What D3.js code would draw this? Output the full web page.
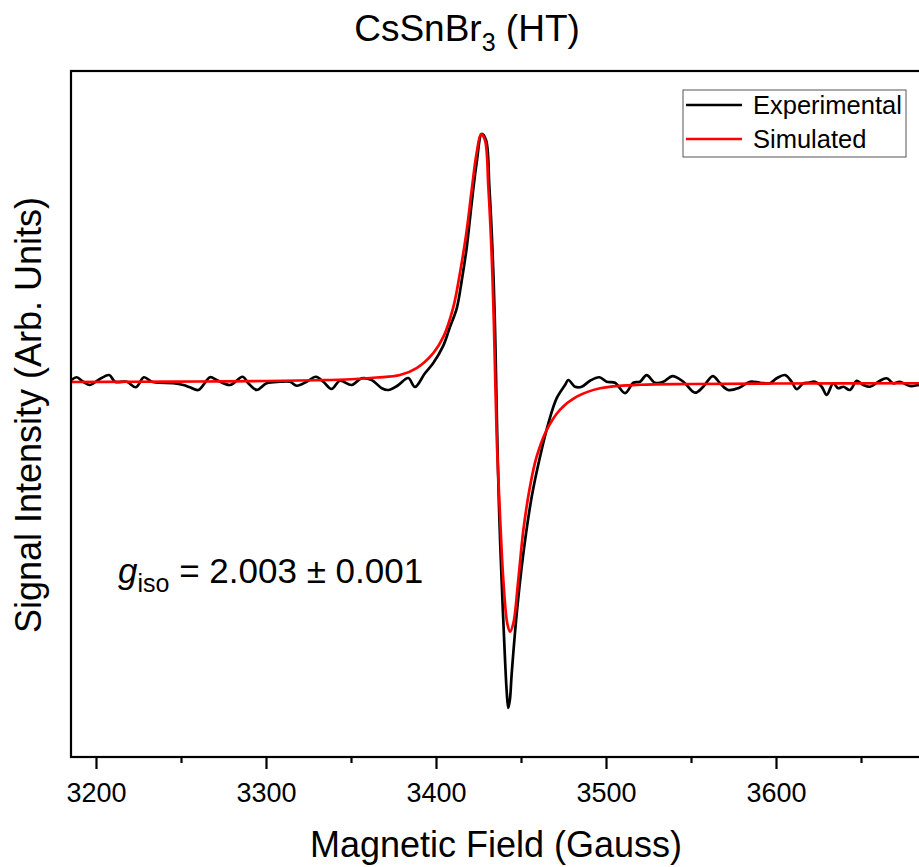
<!DOCTYPE html>
<html lang="en">
<head>
  <meta charset="UTF-8">
  <title>CsSnBr3 (HT) EPR</title>
  <script src="https://d3js.org/d3.v7.min.js"></script>
  <style>
    * {
      margin: 0;
      padding: 0;
      box-sizing: border-box;
    }
    body {
      background: #fff;
      font-family: "Liberation Sans", Arial, sans-serif;
    }
    svg text {
      fill: #000;
    }
  </style>
</head>
<body>
  <div id="chart"></div>

  <script>
    // experimental spectrum (field in Gauss, intensity in arb. units, peak = 1)
    const expField = [3185.7, 3188.6, 3192.5, 3196.5, 3201.4, 3207.8, 3211.2, 3218.1, 3223.5, 3228.2,
      3232.8, 3237.6, 3245.5, 3251.4, 3255.3, 3260.2, 3267.1, 3271.0, 3278.8, 3286.3,
      3289.6, 3294.5, 3300.4, 3308.2, 3314.1, 3318.1, 3323.9, 3329.4, 3333.7, 3338.6,
      3343.5, 3350.4, 3356.3, 3362.2, 3368.1, 3372.0, 3377.5, 3383.7, 3387.6, 3393.5,
      3398.4, 3404.3, 3408.2, 3412.2, 3415.1, 3418.1, 3421.0, 3423.9, 3426.9, 3429.4,
      3431.4, 3433.3, 3434.6, 3435.4, 3436.3, 3437.3, 3438.6, 3440.6, 3441.6, 3442.5,
      3443.5, 3444.5, 3447.5, 3451.4, 3456.3, 3461.2, 3466.1, 3471.0, 3475.9, 3477.8,
      3481.8, 3485.7, 3490.6, 3496.1, 3500.4, 3505.3, 3511.2, 3516.1, 3520.0, 3523.9,
      3528.8, 3533.7, 3539.2, 3545.5, 3552.4, 3557.2, 3562.8, 3567.1, 3571.9, 3577.8,
      3584.7, 3590.6, 3596.5, 3600.4, 3605.3, 3609.2, 3612.2, 3616.1, 3619.0, 3622.9,
      3626.9, 3629.8, 3633.7, 3636.6, 3639.6, 3643.5, 3647.5, 3651.4, 3655.3, 3660.2,
      3665.1, 3669.0, 3672.9, 3678.8, 3684.1, 3690.0];
    const expSignal = [0.012, 0.023, 0.005, -0.008, 0.012, 0.032, 0.005, 0.005, -0.017, 0.023,
      0.005, 0.001, -0.001, -0.008, -0.017, -0.028, 0.023, 0.012, -0.008, 0.025,
      -0.001, -0.028, -0.001, 0.005, 0.005, -0.011, 0.005, 0.025, 0.005, -0.024,
      0.009, -0.008, 0.019, 0.012, -0.021, -0.028, -0.010, 0.020, -0.016, 0.039,
      0.080, 0.150, 0.225, 0.300, 0.410, 0.546, 0.723, 0.884, 1.000, 0.976,
      0.787, 0.522, 0.253, 0.000, -0.300, -0.550, -0.791, -1.110, -1.240, -1.305,
      -1.270, -1.170, -0.925, -0.684, -0.457, -0.296, -0.162, -0.061, -0.008, 0.012,
      -0.015, -0.015, 0.009, 0.023, 0.005, 0.001, -0.041, 0.001, 0.005, 0.032,
      0.001, 0.005, 0.028, 0.005, -0.039, -0.015, 0.028, -0.001, -0.028, -0.021,
      0.005, 0.001, -0.001, 0.019, 0.032, 0.005, -0.025, -0.001, 0.001, 0.005,
      -0.015, -0.048, -0.001, -0.021, -0.015, -0.028, 0.009, -0.008, -0.015, 0.005,
      0.019, -0.001, 0.005, -0.012, -0.008, -0.005];

    // simulated spectrum
    const simField = [3185.0, 3220.0, 3260.0, 3300.0, 3330.0, 3350.0, 3365.0, 3378.8, 3388.6, 3398.4,
      3404.3, 3410.2, 3414.1, 3418.1, 3421.0, 3423.9, 3426.5, 3428.8, 3430.8, 3432.7,
      3434.0, 3434.9, 3435.9, 3437.6, 3439.6, 3441.9, 3443.5, 3445.5, 3448.4, 3451.4,
      3455.3, 3459.2, 3465.1, 3472.9, 3482.8, 3496.5, 3520.0, 3550.0, 3600.0, 3690.0];
    const simSignal = [0.004, 0.005, 0.006, 0.008, 0.011, 0.015, 0.022, 0.032, 0.060, 0.120,
      0.185, 0.305, 0.442, 0.614, 0.775, 0.924, 1.000, 0.976, 0.787, 0.522,
      0.253, 0.000, -0.256, -0.523, -0.791, -0.965, -0.999, -0.965, -0.791, -0.590,
      -0.416, -0.296, -0.189, -0.108, -0.055, -0.021, -0.007, -0.004, -0.002, -0.001];

    const majorTicks = [3200, 3300, 3400, 3500, 3600];
    const minorTicks = [3250, 3350, 3450, 3550, 3650];
    const seriesNames = ["Experimental", "Simulated"];
    const seriesColors = ["#000000", "#ff0000"];

    const W = 919, H = 867;
    const margin = {top: 71, left: 71, bottom: 110};
    const plotRight = 929;            // frame runs past the window edge
    const plotBottom = H - margin.bottom;

    const svg = d3.select("#chart")
                  .append("svg")
                  .attr("width", W)
                  .attr("height", H);

    const x = d3.scaleLinear()
                .domain([3185.3, 3690])
                .range([margin.left, plotRight]);

    const y = d3.scaleLinear()
                .domain([-1.502, 1.253])
                .range([plotBottom, margin.top]);

    svg.append("clipPath")
       .attr("id", "plot-clip")
       .append("rect")
       .attr("x", margin.left)
       .attr("y", margin.top)
       .attr("width", plotRight - margin.left)
       .attr("height", plotBottom - margin.top);

    const expData = expField.map((f, i) => ({f: f, v: expSignal[i]}));
    const simData = simField.map((f, i) => ({f: f, v: simSignal[i]}));

    const line = d3.line()
                   .x(d => x(d.f))
                   .y(d => y(d.v))
                   .curve(d3.curveCatmullRom.alpha(0.5));

    const plot = svg.append("g").attr("clip-path", "url(#plot-clip)");

    plot.append("path")
        .datum(expData)
        .attr("fill", "none")
        .attr("stroke", seriesColors[0])
        .attr("stroke-width", 2.7)
        .attr("stroke-linejoin", "round")
        .attr("d", line);

    plot.append("path")
        .datum(simData)
        .attr("fill", "none")
        .attr("stroke", seriesColors[1])
        .attr("stroke-width", 2.7)
        .attr("stroke-linejoin", "round")
        .attr("d", line);

    // frame
    svg.append("rect")
       .attr("x", margin.left)
       .attr("y", margin.top)
       .attr("width", plotRight - margin.left)
       .attr("height", plotBottom - margin.top)
       .attr("fill", "none")
       .attr("stroke", "#000")
       .attr("stroke-width", 2.2);

    // x axis, major + minor ticks
    const xAxis = svg.append("g")
       .attr("transform", `translate(0, ${plotBottom})`)
       .call(d3.axisBottom(x)
               .tickValues(majorTicks)
               .tickSizeInner(12)
               .tickSizeOuter(0)
               .tickPadding(14)
               .tickFormat(d3.format("d")));
    xAxis.select(".domain").remove();
    xAxis.selectAll("line").attr("stroke", "#000").attr("stroke-width", 2.2);
    xAxis.selectAll("text")
         .style("font-family", "'Liberation Sans', Arial, sans-serif")
         .style("font-size", "27px");

    const xMinor = svg.append("g")
       .attr("transform", `translate(0, ${plotBottom})`)
       .call(d3.axisBottom(x)
               .tickValues(minorTicks)
               .tickSizeInner(6)
               .tickSizeOuter(0)
               .tickFormat(""));
    xMinor.select(".domain").remove();
    xMinor.selectAll("line").attr("stroke", "#000").attr("stroke-width", 2.2);

    // title
    const title = svg.append("text")
       .attr("x", 467)
       .attr("y", 41)
       .attr("text-anchor", "middle")
       .style("font-size", "37px");
    title.append("tspan").text("CsSnBr");
    title.append("tspan").attr("dy", 10).style("font-size", "25px").text("3");
    title.append("tspan").attr("dy", -10).text(" (HT)");

    // axis labels
    svg.append("text")
       .attr("x", 496)
       .attr("y", 857)
       .attr("text-anchor", "middle")
       .style("font-size", "36px")
       .text("Magnetic Field (Gauss)");

    svg.append("text")
       .attr("transform", "translate(41, 415) rotate(-90)")
       .attr("text-anchor", "middle")
       .style("font-size", "36px")
       .text("Signal Intensity (Arb. Units)");

    // g value annotation
    const note = svg.append("text")
       .attr("x", 118)
       .attr("y", 583)
       .style("font-size", "35px");
    note.append("tspan").style("font-style", "italic").text("g");
    note.append("tspan").attr("dy", 9).style("font-size", "25px").text("iso");
    note.append("tspan").attr("dy", -9).text(" = 2.003 ± 0.001");

    // legend
    const legend = svg.append("g");
    legend.append("rect")
          .attr("x", 683)
          .attr("y", 90)
          .attr("width", 223)
          .attr("height", 67)
          .attr("fill", "#fff")
          .attr("stroke", "#555")
          .attr("stroke-width", 1);

    seriesNames.forEach((name, i) => {
      const ly = 105 + i * 34;
      legend.append("line")
            .attr("x1", 686)
            .attr("x2", 742)
            .attr("y1", ly)
            .attr("y2", ly)
            .attr("stroke", seriesColors[i])
            .attr("stroke-width", 2.4);
      legend.append("text")
            .attr("x", 753)
            .attr("y", ly + 9)
            .style("font-size", "25.5px")
            .text(name);
    });
  </script>
</body>
</html>
